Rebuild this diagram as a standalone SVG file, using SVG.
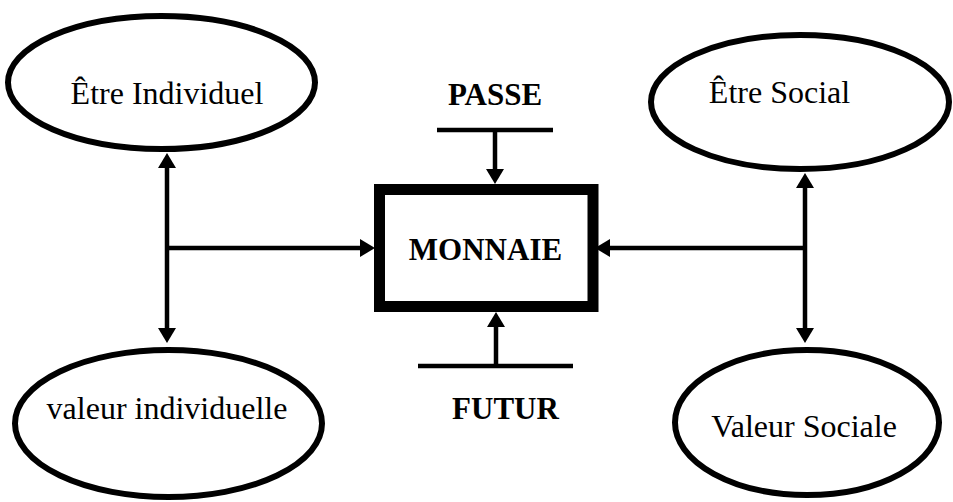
<svg xmlns="http://www.w3.org/2000/svg" width="953" height="502" viewBox="0 0 953 502">
  <style>
    .oval { fill: #fff; stroke: #000; stroke-width: 6; }
    .box { fill: #fff; stroke: #000; stroke-width: 11; }
    .lbl { font-family: "Liberation Serif", "Times New Roman", serif; font-size: 32px; fill: #000; text-anchor: middle; }
    .bold { font-weight: bold; font-size: 31px; }
    .wire { stroke: #000; stroke-width: 4.5; fill: none; }
    .arr { marker-end: url(#head); }
    .both { marker-start: url(#head); marker-end: url(#head); }
  </style>
  <defs>
    <marker id="head" markerUnits="userSpaceOnUse" markerWidth="15" markerHeight="18" refX="0" refY="9" orient="auto-start-reverse" overflow="visible">
      <path d="M0,0 L15,9 L0,18 Z" fill="#000"/>
    </marker>
  </defs>

  <rect width="953" height="502" fill="#fff"/>

  <g id="connectors">
    <!-- left: individual side -->
    <line class="wire both" x1="167" y1="168" x2="167" y2="328"/>
    <line class="wire arr" x1="167" y1="248" x2="360" y2="248"/>
    <!-- right: social side -->
    <line class="wire both" x1="805" y1="188" x2="805" y2="328"/>
    <line class="wire arr" x1="805" y1="248" x2="610" y2="248"/>
    <!-- past / future -->
    <line class="wire" x1="437" y1="130" x2="553" y2="130"/>
    <line class="wire arr" x1="495" y1="130" x2="495" y2="169"/>
    <line class="wire" x1="418" y1="366" x2="573" y2="366"/>
    <line class="wire arr" x1="496" y1="366" x2="496" y2="327"/>
  </g>

  <g id="etre-individuel">
    <ellipse class="oval" cx="161.5" cy="82.5" rx="153.5" ry="66.5"/>
    <text class="lbl" x="167" y="104">Être Individuel</text>
  </g>

  <g id="etre-social">
    <ellipse class="oval" cx="800" cy="102" rx="149" ry="67"/>
    <text class="lbl" x="779.5" y="103">Être Social</text>
  </g>

  <g id="valeur-individuelle">
    <ellipse class="oval" cx="168.5" cy="423.5" rx="153.5" ry="73.5"/>
    <text class="lbl" x="167" y="419">valeur individuelle</text>
  </g>

  <g id="valeur-sociale">
    <ellipse class="oval" cx="807" cy="422.5" rx="132" ry="72.5"/>
    <text class="lbl" x="804" y="437">Valeur Sociale</text>
  </g>

  <g id="monnaie">
    <rect class="box" x="379.5" y="189.5" width="213.5" height="117"/>
    <text class="lbl bold" x="485.5" y="260">MONNAIE</text>
  </g>

  <g id="passe">
    <text class="lbl bold" x="495" y="105">PASSE</text>
  </g>

  <g id="futur">
    <text class="lbl bold" x="505.5" y="419">FUTUR</text>
  </g>
</svg>
